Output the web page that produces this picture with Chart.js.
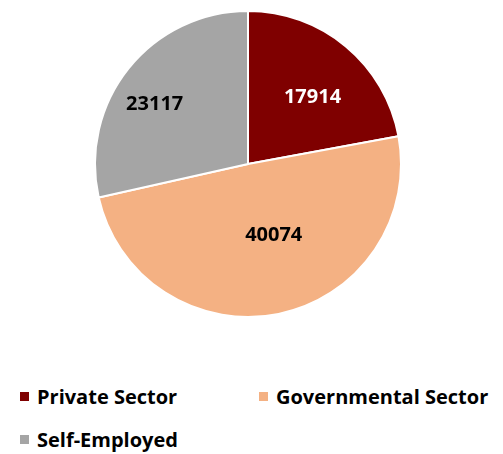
<!DOCTYPE html>
<html>
<head>
<meta charset="utf-8">
<script src="https://cdn.jsdelivr.net/npm/chart.js@4.4.1/dist/chart.umd.min.js"></script>
<style>
    html, body { margin: 0; padding: 0; background: #fff; }
    #wrap { position: relative; width: 503px; height: 454px; }
    #chartBox { position: absolute; left: 0; top: 0; width: 503px; height: 330px; }
    .leg { position: absolute; font-family: "Open Sans", sans-serif; font-weight: bold; font-size: 20px; color: #000; white-space: nowrap; line-height: 24px; }
    .leg span.box { display: inline-block; width: 9px; height: 9px; margin-right: 8px; vertical-align: middle; position: relative; top: -2px; }
</style>
</head>
<body>
<div id="wrap">
    <div id="chartBox"><canvas id="pieChart"></canvas></div>
    <div id="legend"></div>
</div>
<script>
// chart data
const categories = ['Private Sector', 'Governmental Sector', 'Self-Employed'];
const values = [17914, 40074, 23117];
const sliceColors = ['#7F0000', '#F4B183', '#A5A5A5'];
const labelColors = ['#FFFFFF', '#000000', '#000000'];
// where each value label sits: fraction of radius, and nudge off the mid angle (deg)
const labelRadius = [0.613, 0.488, 0.729];
const labelTurn = [3.7, -8.6, -5.5];

// legend positions (row layout)
const legendPos = [[20, 385], [259, 385], [20, 428]];

// simple value label plugin, no datalabels available
const valueLabels = {
    id: 'valueLabels',
    afterDatasetsDraw(chart) {
        const ctx = chart.ctx;
        const meta = chart.getDatasetMeta(0);
        ctx.save();
        ctx.font = 'bold 20px "Open Sans", sans-serif';
        ctx.textAlign = 'center';
        ctx.textBaseline = 'middle';
        meta.data.forEach((arc, i) => {
            const p = arc.getProps(['x', 'y', 'startAngle', 'endAngle', 'outerRadius'], true);
            const mid = (p.startAngle + p.endAngle) / 2 + labelTurn[i] * Math.PI / 180;
            const r = p.outerRadius * labelRadius[i];
            ctx.fillStyle = labelColors[i];
            ctx.fillText(String(values[i]), p.x + Math.cos(mid) * r, p.y + Math.sin(mid) * r + 1);
        });
        ctx.restore();
    }
};

new Chart(document.getElementById('pieChart'), {
    type: 'pie',
    data: {
        labels: categories,
        datasets: [{
            data: values,
            backgroundColor: sliceColors,
            borderColor: '#FFFFFF',
            borderWidth: 2
        }]
    },
    options: {
        responsive: true,
        maintainAspectRatio: false,
        animation: false,
        layout: { padding: { top: 10, bottom: 12, left: 0, right: 7 } },
        plugins: {
            legend: { display: false },
            tooltip: { enabled: false }
        }
    },
    plugins: [valueLabels]
});

// html legend built from the same arrays
const legendDiv = document.getElementById('legend');
categories.forEach((name, i) => {
    const item = document.createElement('div');
    item.className = 'leg';
    item.style.left = legendPos[i][0] + 'px';
    item.style.top = legendPos[i][1] + 'px';
    item.innerHTML = `<span class="box" style="background:${sliceColors[i]}"></span>${name}`;
    legendDiv.appendChild(item);
});
</script>
</body>
</html>
